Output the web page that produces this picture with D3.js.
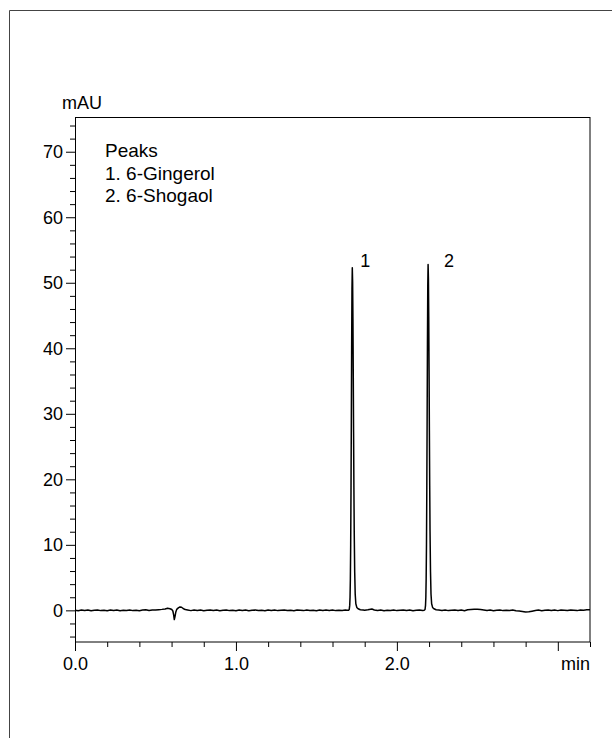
<!DOCTYPE html>
<html>
<head>
<meta charset="utf-8">
<script src="https://cdn.jsdelivr.net/npm/d3@7"></script>
<style>
  html, body { margin: 0; padding: 0; background: #fff; }
  svg { display: block; }
  text { font-family: Arial, "Liberation Sans", Helvetica, sans-serif; fill: #000; }
</style>
</head>
<body>
<svg id="chart" width="612" height="738"></svg>
<script>
// Chromatogram trace: [retention time (min), absorbance (mAU)]
const trace = [
  [0.00, 0.02], [0.02, -0.05], [0.04, 0.06], [0.06, -0.03], [0.08, 0.04], [0.10, -0.06],
  [0.12, 0.03], [0.14, 0.07], [0.16, -0.04], [0.18, 0.02], [0.20, -0.07], [0.22, 0.05],
  [0.24, -0.02], [0.26, 0.04], [0.28, -0.05], [0.30, 0.03], [0.32, -0.03], [0.34, 0.06],
  [0.36, -0.04], [0.38, 0.02], [0.40, -0.06], [0.42, 0.05], [0.44, 0.08], [0.46, -0.02],
  [0.48, 0.06], [0.50, 0.04], [0.52, 0.10], [0.54, 0.15], [0.56, 0.22], [0.575, 0.32],
  [0.59, 0.24], [0.602, 0.12], [0.608, -0.10], [0.613, -0.70], [0.617, -1.40], [0.621, -1.00],
  [0.626, -0.30], [0.632, 0.15], [0.642, 0.38], [0.652, 0.52], [0.662, 0.48], [0.672, 0.28],
  [0.685, 0.12], [0.70, 0.05], [0.72, -0.04], [0.74, 0.06], [0.76, -0.03], [0.78, 0.05],
  [0.80, -0.05], [0.82, 0.03], [0.84, 0.07], [0.86, -0.02], [0.88, 0.04], [0.90, -0.06],
  [0.92, 0.02], [0.94, 0.05], [0.96, -0.04], [0.98, 0.03], [1.00, -0.05], [1.02, 0.06],
  [1.04, -0.02], [1.06, 0.04], [1.08, -0.06], [1.10, 0.03], [1.12, 0.05], [1.14, -0.03],
  [1.16, 0.02], [1.18, -0.05], [1.20, 0.06], [1.22, -0.02], [1.24, 0.04], [1.26, -0.04],
  [1.28, 0.03], [1.30, 0.07], [1.32, -0.03], [1.34, 0.02], [1.36, -0.06], [1.38, 0.04],
  [1.40, 0.01], [1.42, -0.04], [1.44, 0.05], [1.46, -0.02], [1.48, 0.03], [1.50, -0.05],
  [1.52, 0.06], [1.54, -0.03], [1.56, 0.04], [1.58, -0.02], [1.60, 0.05], [1.62, -0.04],
  [1.64, 0.03], [1.66, -0.02], [1.68, 0.04], [1.69, 0.01], [1.700, 0.03],
  // 6-Gingerol
  [1.704, 0.13], [1.707, 0.76], [1.709, 2.0], [1.711, 4.8], [1.713, 10.0], [1.715, 18.2],
  [1.717, 28.8], [1.719, 40.2], [1.721, 49.0], [1.723, 52.3], [1.725, 50.2], [1.727, 44.4],
  [1.729, 36.2], [1.731, 27.2], [1.733, 18.8], [1.735, 12.0], [1.738, 5.8], [1.741, 2.5],
  [1.745, 1.0], [1.751, 0.45], [1.759, 0.25], [1.773, 0.10], [1.79, 0.05], [1.80, 0.02],
  [1.82, 0.08], [1.845, 0.20], [1.86, 0.06], [1.88, -0.03], [1.90, 0.04], [1.92, -0.05],
  [1.94, 0.03], [1.96, -0.02], [1.98, 0.05], [2.00, -0.04], [2.02, 0.02], [2.04, 0.06],
  [2.06, -0.03], [2.08, 0.04], [2.10, -0.05], [2.12, 0.02], [2.14, 0.05], [2.16, -0.02],
  [2.170, 0.02],
  // 6-Shogaol
  [2.175, 0.13], [2.178, 0.77], [2.180, 2.0], [2.182, 4.9], [2.184, 10.1], [2.186, 18.4],
  [2.188, 29.1], [2.190, 40.6], [2.192, 49.5], [2.194, 52.8], [2.196, 50.7], [2.198, 44.8],
  [2.200, 36.6], [2.202, 27.5], [2.204, 19.0], [2.206, 12.1], [2.209, 5.9], [2.212, 2.5],
  [2.216, 1.0], [2.222, 0.45], [2.230, 0.25], [2.244, 0.10], [2.26, 0.04], [2.28, -0.03],
  [2.30, 0.05], [2.32, -0.04], [2.34, 0.03], [2.36, 0.06], [2.38, -0.02], [2.40, 0.04],
  [2.42, -0.05], [2.44, 0.08], [2.46, 0.12], [2.48, 0.15], [2.50, 0.18], [2.52, 0.12],
  [2.54, 0.06], [2.56, -0.02], [2.58, 0.04], [2.60, -0.05], [2.62, 0.03], [2.64, 0.05],
  [2.66, -0.04], [2.68, 0.02], [2.70, -0.03], [2.72, 0.04], [2.74, -0.06], [2.76, -0.10],
  [2.78, -0.18], [2.80, -0.25], [2.82, -0.22], [2.84, -0.12], [2.86, -0.03], [2.88, 0.04],
  [2.90, -0.05], [2.92, 0.03], [2.94, 0.06], [2.96, -0.02], [2.98, 0.04], [3.00, -0.04],
  [3.02, 0.05], [3.04, 0.02], [3.06, -0.03], [3.08, 0.06], [3.10, 0.02], [3.12, -0.04],
  [3.14, 0.05], [3.16, 0.03], [3.18, 0.08], [3.20, 0.10]
];

// Identified peaks: label, retention time, apex height
const peakLabels = ["1", "2"];
const peakTimes = [1.723, 2.194];
const peakHeights = [52.3, 52.8];
const peakNames = ["6-Gingerol", "6-Shogaol"];

// Axis ticks
const yMajorTicks = [0, 10, 20, 30, 40, 50, 60, 70];
const yMinorTicks = [-4, -2, 2, 4, 6, 8, 12, 14, 16, 18, 22, 24, 26, 28, 32, 34, 36, 38,
                     42, 44, 46, 48, 52, 54, 56, 58, 62, 64, 66, 68, 72, 74];
const xMajorTicks = [0, 1, 2, 3];
const xTickLabels = ["0.0", "1.0", "2.0", ""];
const xMinorTicks = [0.2, 0.4, 0.6, 0.8, 1.2, 1.4, 1.6, 1.8, 2.2, 2.4, 2.6, 2.8, 3.2];
const xUnit = "min";
const yUnit = "mAU";

const svg = d3.select("#chart");
const FONT = 18;
const LEGEND_FONT = 19;

const plot = { left: 75, right: 590, top: 117, bottom: 642 };
const x = d3.scaleLinear().domain([0, 3.2]).range([plot.left, plot.right]);
const y = d3.scaleLinear().domain([-4.83, 75.3]).range([plot.bottom, plot.top]);

// Outer page frame (top and left edges)
svg.append("path")
  .attr("d", "M9.5,738 V10.5 H612")
  .attr("fill", "none")
  .attr("stroke", "#444")
  .attr("stroke-width", 1);

// Y axis
const yMajor = svg.append("g")
  .attr("transform", `translate(${plot.left},0)`)
  .call(d3.axisLeft(y).tickValues(yMajorTicks).tickSize(9).tickPadding(3).tickFormat(d3.format("d")));
const yMinor = svg.append("g")
  .attr("transform", `translate(${plot.left},0)`)
  .call(d3.axisLeft(y).tickValues(yMinorTicks).tickSize(5).tickFormat(""));

// X axis
const X_TICK = 9, X_PAD = 6;
const xMajor = svg.append("g")
  .attr("transform", `translate(0,${plot.bottom})`)
  .call(d3.axisBottom(x).tickValues(xMajorTicks).tickSize(X_TICK).tickPadding(X_PAD)
    .tickFormat((d, i) => xTickLabels[i]));
const xMinor = svg.append("g")
  .attr("transform", `translate(0,${plot.bottom})`)
  .call(d3.axisBottom(x).tickValues(xMinorTicks).tickSize(5).tickFormat(""));

[yMajor, yMinor, xMajor, xMinor].forEach(g => {
  g.select(".domain").remove();
  g.selectAll(".tick line").attr("stroke", "#000").attr("stroke-width", 1);
  g.selectAll(".tick text").attr("font-size", FONT).attr("font-family", "Arial, 'Liberation Sans', sans-serif");
});

// Axis unit labels: time unit sits on the tick-label row at the right end
svg.append("text")
  .attr("x", plot.right)
  .attr("y", plot.bottom + X_TICK + X_PAD)
  .attr("dy", "0.71em")
  .attr("text-anchor", "end")
  .attr("font-size", FONT)
  .text(xUnit);
svg.append("text")
  .attr("x", 62)
  .attr("y", 109)
  .attr("font-size", FONT)
  .text(yUnit);

// Plot frame
svg.append("rect")
  .attr("x", plot.left + 0.5)
  .attr("y", plot.top + 0.5)
  .attr("width", plot.right - plot.left - 0.5)
  .attr("height", plot.bottom - plot.top - 0.5)
  .attr("fill", "none")
  .attr("stroke", "#000")
  .attr("stroke-width", 1);

// Signal trace
const line = d3.line()
  .x(d => x(d[0]))
  .y(d => y(d[1]));
svg.append("path")
  .datum(trace)
  .attr("d", line)
  .attr("fill", "none")
  .attr("stroke", "#000")
  .attr("stroke-width", 1.5)
  .attr("stroke-linejoin", "round");

// Peak numbers, set to the right of each apex on a shared baseline
const peakLabelDx = [13, 21];
const peakLabelBaseline = y(d3.max(peakHeights)) + 2.5;
svg.selectAll("text.peak")
  .data(peakLabels)
  .join("text")
  .attr("class", "peak")
  .attr("x", (d, i) => x(peakTimes[i]) + peakLabelDx[i])
  .attr("y", peakLabelBaseline)
  .attr("text-anchor", "middle")
  .attr("font-size", FONT)
  .text(d => d);

// Peak table
const legend = svg.append("g").attr("transform", "translate(105,0)");
legend.append("text").attr("x", 0).attr("y", 157).attr("font-size", LEGEND_FONT).text("Peaks");
legend.selectAll("text.entry")
  .data(peakNames)
  .join("text")
  .attr("class", "entry")
  .attr("x", 0)
  .attr("y", (d, i) => 180 + i * 22)
  .attr("font-size", LEGEND_FONT)
  .text((d, i) => `${peakLabels[i]}. ${d}`);
</script>
</body>
</html>
